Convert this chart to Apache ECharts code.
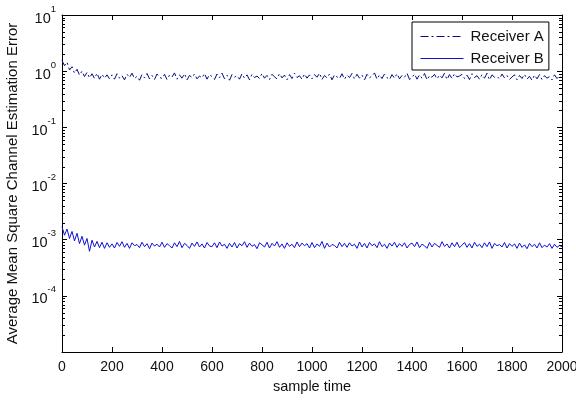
<!DOCTYPE html>
<html><head><meta charset="utf-8">
<script src="https://cdn.jsdelivr.net/npm/echarts@6/dist/echarts.min.js"></script>
<style>html,body{margin:0;padding:0;background:#fff}#c{width:576px;height:401px}</style>
</head><body><div id="c"></div>
<script>
// sample times: every 10 samples from 0 to 2000
const sampleStep = 10;
const receiverA = [
1.55,1.25,1.45,1.05,1.20,0.92,1.08,0.85,1.00,0.80,0.95,0.76,0.90,0.74,0.92,0.72,0.88,0.75,0.86,0.73,
0.86,0.72,0.90,0.75,0.83,0.70,0.88,0.77,0.92,0.74,0.81,0.69,0.87,0.76,0.91,0.73,0.84,0.71,0.89,0.78,
0.74,0.88,0.71,0.85,0.79,0.93,0.72,0.86,0.75,0.90,0.70,0.84,0.77,0.89,0.73,0.82,0.76,0.91,0.72,0.87,
0.80,0.71,0.89,0.76,0.92,0.73,0.85,0.69,0.87,0.78,0.83,0.72,0.90,0.75,0.86,0.70,0.88,0.77,0.82,0.74,
0.91,0.75,0.84,0.71,0.88,0.79,0.73,0.90,0.76,0.85,0.70,0.87,0.74,0.92,0.77,0.83,0.72,0.89,0.75,0.86,
0.73,0.87,0.78,0.92,0.71,0.84,0.76,0.89,0.70,0.86,0.79,0.74,0.90,0.72,0.85,0.77,0.91,0.73,0.88,0.75,
0.85,0.70,0.88,0.76,0.82,0.93,0.72,0.86,0.74,0.89,0.77,0.71,0.87,0.75,0.90,0.73,0.84,0.78,0.92,0.71,
0.77,0.89,0.72,0.86,0.75,0.91,0.70,0.83,0.78,0.88,0.73,0.85,0.76,0.92,0.71,0.87,0.74,0.90,0.79,0.82,
0.88,0.74,0.85,0.71,0.90,0.77,0.83,0.72,0.87,0.75,0.92,0.70,0.86,0.78,0.81,0.73,0.89,0.76,0.84,0.71,
0.79,0.86,0.70,0.84,0.74,0.88,0.72,0.81,0.69,0.85,0.73,0.87,0.71,0.83,0.75,0.80,0.70,0.86,0.74,0.82,
0.76
];
const receiverB = [
1.70e-3,1.20e-3,1.55e-3,1.05e-3,1.40e-3,0.95e-3,1.30e-3,0.85e-3,1.15e-3,0.80e-3,1.05e-3,0.62e-3,0.98e-3,0.74e-3,0.93e-3,0.72e-3,0.90e-3,0.70e-3,0.88e-3,0.73e-3,
0.84e-3,0.71e-3,0.89e-3,0.76e-3,0.92e-3,0.73e-3,0.86e-3,0.70e-3,0.88e-3,0.78e-3,0.82e-3,0.72e-3,0.90e-3,0.75e-3,0.85e-3,0.69e-3,0.87e-3,0.77e-3,0.83e-3,0.74e-3,
0.90e-3,0.73e-3,0.85e-3,0.78e-3,0.71e-3,0.88e-3,0.75e-3,0.93e-3,0.72e-3,0.86e-3,0.79e-3,0.70e-3,0.87e-3,0.76e-3,0.91e-3,0.74e-3,0.84e-3,0.71e-3,0.89e-3,0.77e-3,
0.75e-3,0.88e-3,0.72e-3,0.91e-3,0.77e-3,0.83e-3,0.70e-3,0.86e-3,0.74e-3,0.89e-3,0.71e-3,0.85e-3,0.78e-3,0.92e-3,0.73e-3,0.87e-3,0.76e-3,0.82e-3,0.69e-3,0.88e-3,
0.81e-3,0.74e-3,0.90e-3,0.71e-3,0.86e-3,0.77e-3,0.92e-3,0.73e-3,0.84e-3,0.70e-3,0.88e-3,0.76e-3,0.83e-3,0.72e-3,0.91e-3,0.75e-3,0.87e-3,0.78e-3,0.85e-3,0.71e-3,
0.89e-3,0.72e-3,0.84e-3,0.76e-3,0.93e-3,0.70e-3,0.87e-3,0.74e-3,0.82e-3,0.79e-3,0.71e-3,0.90e-3,0.75e-3,0.86e-3,0.73e-3,0.88e-3,0.77e-3,0.83e-3,0.70e-3,0.91e-3,
0.74e-3,0.86e-3,0.71e-3,0.89e-3,0.78e-3,0.84e-3,0.72e-3,0.92e-3,0.75e-3,0.83e-3,0.70e-3,0.87e-3,0.77e-3,0.90e-3,0.73e-3,0.85e-3,0.76e-3,0.88e-3,0.71e-3,0.82e-3,
0.87e-3,0.75e-3,0.91e-3,0.72e-3,0.83e-3,0.78e-3,0.70e-3,0.89e-3,0.74e-3,0.86e-3,0.79e-3,0.73e-3,0.92e-3,0.76e-3,0.84e-3,0.71e-3,0.88e-3,0.75e-3,0.90e-3,0.72e-3,
0.80e-3,0.89e-3,0.73e-3,0.85e-3,0.71e-3,0.90e-3,0.76e-3,0.83e-3,0.72e-3,0.88e-3,0.75e-3,0.91e-3,0.70e-3,0.86e-3,0.78e-3,0.82e-3,0.74e-3,0.89e-3,0.71e-3,0.85e-3,
0.76e-3,0.84e-3,0.70e-3,0.87e-3,0.73e-3,0.81e-3,0.69e-3,0.86e-3,0.75e-3,0.83e-3,0.71e-3,0.88e-3,0.72e-3,0.80e-3,0.74e-3,0.85e-3,0.70e-3,0.83e-3,0.73e-3,0.79e-3,
0.75e-3
];
const seriesNames = ['Receiver A', 'Receiver B'];
const xTickValues = [0,200,400,600,800,1000,1200,1400,1600,1800,2000];
const yDecades = [1e-5,1e-4,1e-3,1e-2,1e-1,1e0,1e1];
const minorMantissas = [2,3,4,5,6,7,8,9];
const xLabel = 'sample time';
const yLabel = 'Average Mean Square Channel Estimation Error';

const xMin = xTickValues[0], xMax = xTickValues[xTickValues.length - 1];
const yMin = yDecades[0], yMax = yDecades[yDecades.length - 1];
const pairsA = receiverA.map((v, i) => [i * sampleStep, v]);
const pairsB = receiverB.map((v, i) => [i * sampleStep, v]);
const minorTicks = [];
yDecades.slice(0, -1).forEach(d => minorMantissas.forEach(m => minorTicks.push([xMin, m * d])));

const FONT = '"Liberation Sans", Arial, Helvetica, sans-serif';
const chart = echarts.init(document.getElementById('c'), null, {renderer: 'canvas'});

const axisCommon = {
  axisLine: {show: true, onZero: false, lineStyle: {color: '#000', width: 1}},
  axisTick: {show: true, inside: true, length: 5, lineStyle: {color: '#000'}},
  splitLine: {show: false},
  minorTick: {show: false}
};

chart.setOption({
  animation: false,
  backgroundColor: '#fff',
  textStyle: {fontFamily: FONT},
  grid: {left: 62, right: 14, top: 15, bottom: 49, containLabel: false, outerBoundsMode: 'none'},
  legend: {
    data: seriesNames,
    orient: 'vertical',
    left: 412, top: 22,
    itemWidth: 43, itemHeight: 14, itemGap: 7,
    padding: [7, 5, 4, 8],
    backgroundColor: '#fff',
    borderColor: '#000', borderWidth: 1, borderRadius: 0,
    itemStyle: {opacity: 0},
    lineStyle: {width: 1},
    textStyle: {fontSize: 15, color: '#111', fontFamily: FONT, padding: [0, 0, 0, 2]}
  },
  xAxis: [
    Object.assign({}, axisCommon, {
      type: 'value', position: 'bottom', min: xMin, max: xMax, interval: 200,
      name: xLabel, nameLocation: 'middle', nameGap: 27,
      nameTextStyle: {fontSize: 14.5, color: '#111', fontFamily: FONT},
      axisLabel: {fontSize: 14, color: '#111', margin: 8, fontFamily: FONT, formatter: v => String(v)}
    }),
    Object.assign({}, axisCommon, {
      type: 'value', position: 'top', min: xMin, max: xMax, interval: 200,
      axisLabel: {show: false}
    })
  ],
  yAxis: [
    Object.assign({}, axisCommon, {
      type: 'log', logBase: 10, position: 'left', min: yMin, max: yMax, splitNumber: 6,
      name: yLabel, nameLocation: 'middle', nameGap: 32, nameRotate: 90,
      nameTextStyle: {fontSize: 15, color: '#111', fontFamily: FONT},
      axisLabel: {
        margin: 6, color: '#111',
        formatter: v => {
          const e = Math.round(Math.log10(v));
          if (e === -5) return '';
          return '{b|10}{e|' + e + '}';
        },
        rich: {
          b: {fontSize: 14.5, fontFamily: FONT, color: '#111', lineHeight: 22, verticalAlign: 'bottom'},
          e: {fontSize: 9.5, fontFamily: FONT, color: '#111', lineHeight: 22, verticalAlign: 'top'}
        }
      }
    }),
    Object.assign({}, axisCommon, {
      type: 'log', logBase: 10, position: 'right', min: yMin, max: yMax, splitNumber: 6,
      axisLabel: {show: false}
    })
  ],
  series: [
    {
      name: seriesNames[0], type: 'line', data: pairsA, xAxisIndex: 0, yAxisIndex: 0,
      symbol: 'none', showSymbol: false, smooth: false,
      lineStyle: {color: '#0a0a8a', width: 1, type: [8, 3, 2, 3]},
      itemStyle: {color: '#0a0a8a'}, z: 3
    },
    {
      name: seriesNames[1], type: 'line', data: pairsB, xAxisIndex: 0, yAxisIndex: 0,
      symbol: 'none', showSymbol: false, smooth: false,
      lineStyle: {color: '#1010d8', width: 1, type: 'solid'},
      itemStyle: {color: '#1010d8'}, z: 3
    },
    {
      name: 'minor', type: 'custom', data: minorTicks, xAxisIndex: 0, yAxisIndex: 0,
      silent: true, clip: false, z: 4,
      renderItem: (params, api) => {
        const v = api.value(1);
        const pl = api.coord([xMin, v]);
        const pr = api.coord([xMax, v]);
        const y = Math.round(pl[1]) + 0.5;
        return {type: 'group', children: [
          {type: 'line', shape: {x1: pl[0], y1: y, x2: pl[0] + 3, y2: y}, style: {stroke: '#000', lineWidth: 1}},
          {type: 'line', shape: {x1: pr[0], y1: y, x2: pr[0] - 3, y2: y}, style: {stroke: '#000', lineWidth: 1}}
        ]};
      }
    }
  ]
});
</script>
</body></html>
